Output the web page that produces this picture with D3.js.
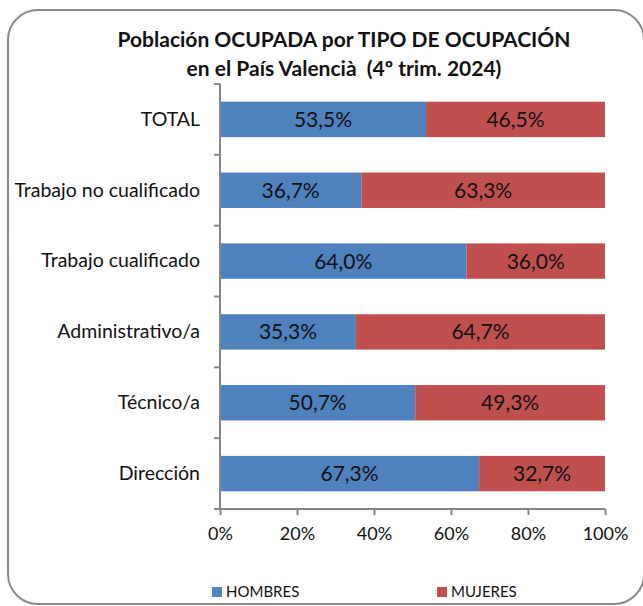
<!DOCTYPE html>
<html>
<head>
<meta charset="utf-8">
<script src="https://cdn.jsdelivr.net/npm/d3@7"></script>
<style>
  body { margin: 0; background: #fff; }
  text { font-family: Lato, "Open Sans", sans-serif; fill: #111; }
</style>
</head>
<body>
<script>
// data
var categories = ["TOTAL", "Trabajo no cualificado", "Trabajo cualificado", "Administrativo/a", "Técnico/a", "Dirección"];
var hombres = [53.5, 36.7, 64.0, 35.3, 50.7, 67.3];
var mujeres = [46.5, 63.3, 36.0, 64.7, 49.3, 32.7];
var seriesNames = ["HOMBRES", "MUJERES"];
var seriesColors = ["#4F81BD", "#C0504D"];
var xTicks = [0, 20, 40, 60, 80, 100];

var w = 643, h = 606,
    axisColor = "#868686";

var svg = d3.select("body").append("svg")
    .attr("width", w)
    .attr("height", h);

// outer frame
svg.append("rect")
    .attr("x", 8).attr("y", 10)
    .attr("width", 636).attr("height", 594)
    .attr("rx", 30).attr("ry", 30)
    .attr("fill", "#fff")
    .attr("stroke", "#8a8a8a")
    .attr("stroke-width", 2);

// title
var title = svg.append("text")
    .attr("text-anchor", "middle")
    .style("font-weight", "bold")
    .style("font-size", "21px")
    .style("white-space", "pre");
title.append("tspan").attr("x", 344).attr("y", 47).text("Población OCUPADA por TIPO DE OCUPACIÓN");
title.append("tspan").attr("x", 344).attr("y", 76).text("en el País Valencià  (4º trim. 2024)");

var x = d3.scaleLinear().domain([0, 100]).range([220, 605]);
var y = d3.scaleBand().domain(categories).range([84, 509])
    .paddingInner(0.5).paddingOuter(0.25);

var rows = categories.map(function(c, i) {
    return { cat: c, vals: [hombres[i], mujeres[i]] };
});

// bars
var g = svg.selectAll("g.row")
    .data(rows)
    .enter().append("g")
    .attr("class", "row");

g.each(function(d) {
    var start = 0;
    var sel = d3.select(this);
    d.vals.forEach(function(v, k) {
        sel.append("rect")
            .attr("x", x(start))
            .attr("y", y(d.cat))
            .attr("width", x(start + v) - x(start))
            .attr("height", y.bandwidth())
            .attr("fill", seriesColors[k]);
        sel.append("text")
            .attr("x", x(start + v / 2))
            .attr("y", y(d.cat) + y.bandwidth() / 2)
            .attr("dy", "0.36em")
            .attr("text-anchor", "middle")
            .style("font-size", "21px")
            .text(d3.format(".1f")(v).replace(".", ",") + "%");
        start += v;
    });
});

// x axis
var xAxis = svg.append("g")
    .attr("transform", "translate(0,509)")
    .call(d3.axisBottom(x).tickValues(xTicks).tickSize(6).tickPadding(12)
        .tickFormat(function(d) { return d + "%"; }));
xAxis.select(".domain").attr("stroke", axisColor).attr("stroke-width", 2)
    .attr("d", "M220,0H605");
xAxis.selectAll(".tick line").attr("stroke", axisColor).attr("stroke-width", 2);
xAxis.selectAll(".tick text").style("font-size", "18px").attr("fill", "#111");

// y axis: labels plus ticks at band boundaries
var yAxis = svg.append("g")
    .attr("transform", "translate(220,0)")
    .call(d3.axisLeft(y).tickSize(0).tickPadding(20));
yAxis.select(".domain").attr("stroke", axisColor).attr("stroke-width", 2)
    .attr("d", "M0,84V509");
yAxis.selectAll(".tick text").style("font-size", "19.5px").attr("fill", "#111");

var bounds = d3.range(categories.length + 1).map(function(i) { return 84 + i * (509 - 84) / categories.length; });
yAxis.selectAll("line.bound")
    .data(bounds)
    .enter().append("line")
    .attr("class", "bound")
    .attr("x1", -6).attr("x2", 0)
    .attr("y1", function(d) { return d; })
    .attr("y2", function(d) { return d; })
    .attr("stroke", axisColor)
    .attr("stroke-width", 2);

// legend
var legendX = [212, 437];
var legend = svg.selectAll("g.legend")
    .data(seriesNames)
    .enter().append("g")
    .attr("class", "legend")
    .attr("transform", function(d, i) { return "translate(" + legendX[i] + ",592)"; });
legend.append("rect")
    .attr("x", 0).attr("y", -5)
    .attr("width", 10).attr("height", 10)
    .attr("fill", function(d, i) { return seriesColors[i]; });
legend.append("text")
    .attr("x", 14)
    .attr("dy", "0.36em")
    .style("font-size", "15px")
    .text(function(d) { return d; });
</script>
</body>
</html>
